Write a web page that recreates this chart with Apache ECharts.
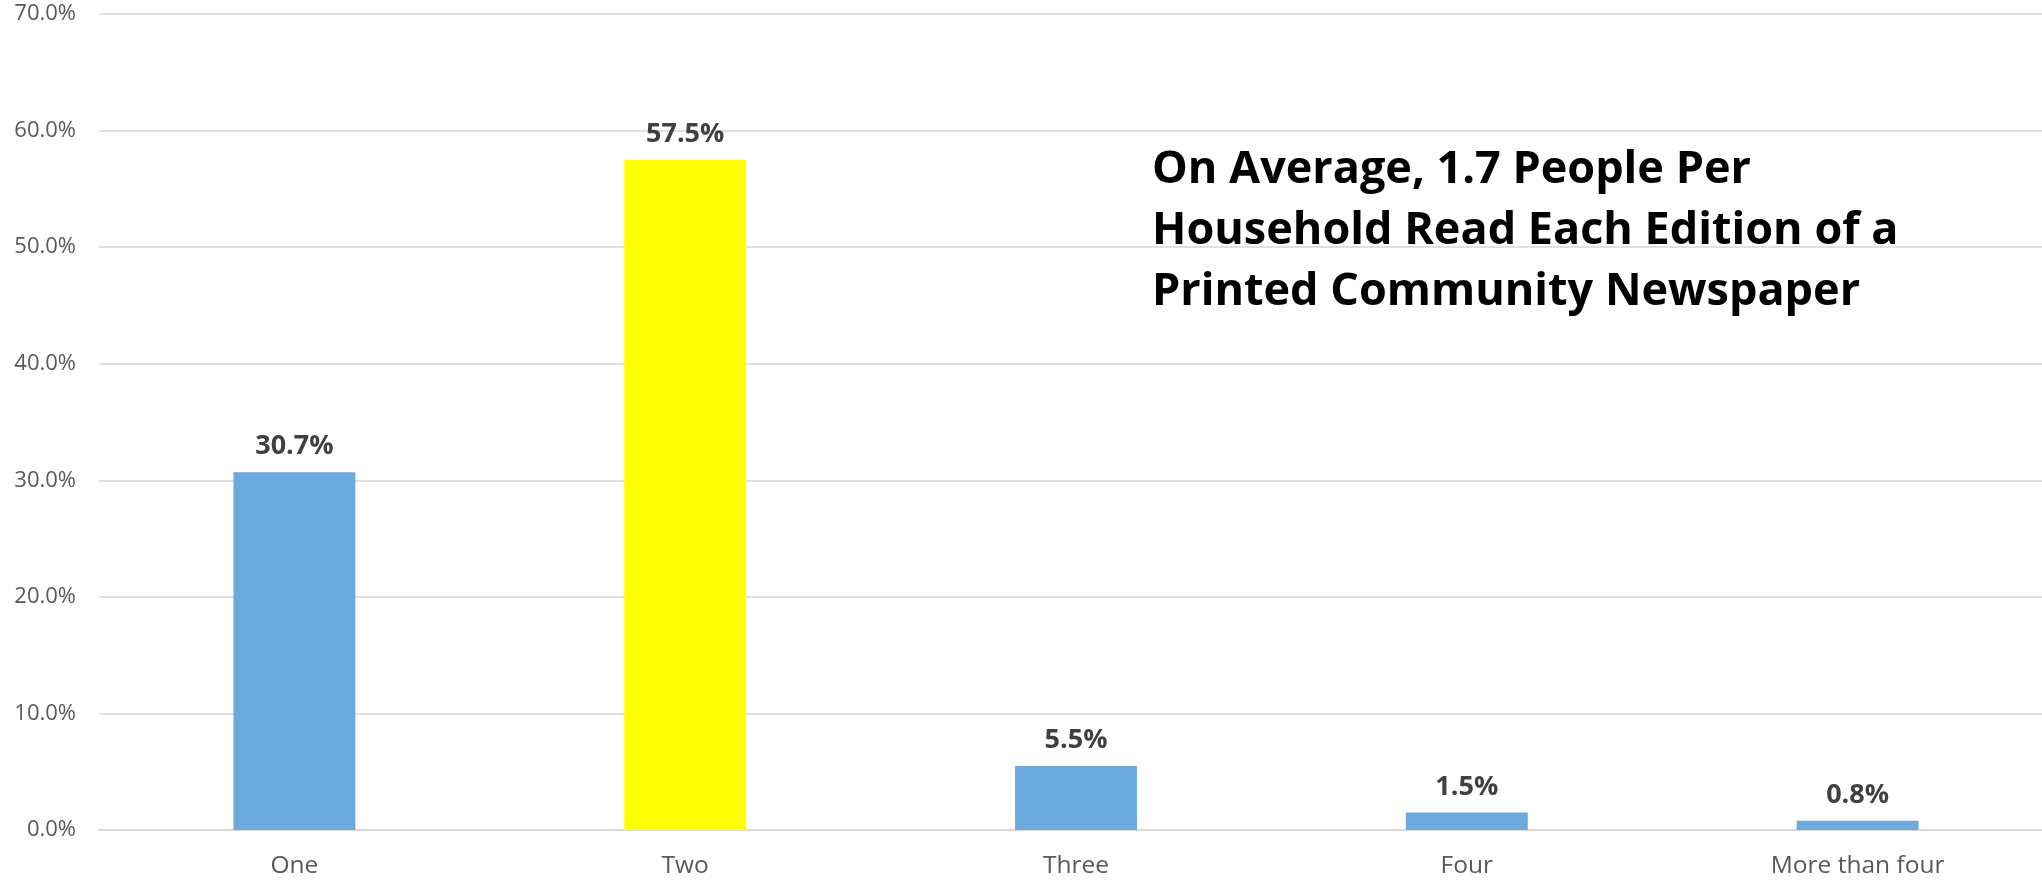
<!DOCTYPE html>
<html><head><meta charset="utf-8">
<script src="https://cdn.jsdelivr.net/npm/echarts@6/dist/echarts.min.js"></script>
<style>html,body{margin:0;padding:0;background:#fff;overflow:hidden;width:2042px;height:882px}#c{width:2053px;height:882px}</style>
</head><body><div id="c"></div>
<script>
const categories = ["One", "Two", "Three", "Four", "More than four"];
const values = [30.7, 57.5, 5.5, 1.5, 0.8];
const barColors = ["#6CA9DC", "#FFFF00", "#6CA9DC", "#6CA9DC", "#6CA9DC"];
const titleLines = ["On Average, 1.7 People Per", "Household Read Each Edition of a", "Printed Community Newspaper"];

const chart = echarts.init(document.getElementById('c'));
chart.setOption({
  backgroundColor: '#fff',
  animation: false,
  title: {
    text: titleLines.join('\n'),
    left: 1147, top: 135,
    textStyle: { fontFamily: 'Open Sans', fontWeight: 'bold', fontSize: 45, color: '#000', lineHeight: 61 }
  },
  grid: { left: 99, right: 0, top: 14, bottom: 52, containLabel: false },
  xAxis: {
    type: 'category', data: categories,
    axisLine: { lineStyle: { color: '#d9d9d9', width: 2 } },
    axisTick: { show: false },
    axisLabel: { color: '#595959', fontFamily: 'Open Sans', fontSize: 24.5, margin: 24 }
  },
  yAxis: {
    type: 'value', min: 0, max: 70, interval: 10,
    axisLine: { show: false }, axisTick: { show: false },
    splitLine: { lineStyle: { color: '#e0e0e0', width: 2 } },
    axisLabel: { color: '#595959', fontFamily: 'Open Sans', fontSize: 22, margin: 23,
      formatter: v => v.toFixed(1) + '%' }
  },
  series: [{
    type: 'bar', barWidth: '31.2%',
    data: values.map((v, i) => ({ value: v, itemStyle: { color: barColors[i] } })),
    label: { show: true, position: 'top', distance: 12, color: '#404040', fontFamily: 'Open Sans',
      fontWeight: 'bold', fontSize: 27, formatter: p => p.value.toFixed(1) + '%' }
  }]
});
</script></body></html>
